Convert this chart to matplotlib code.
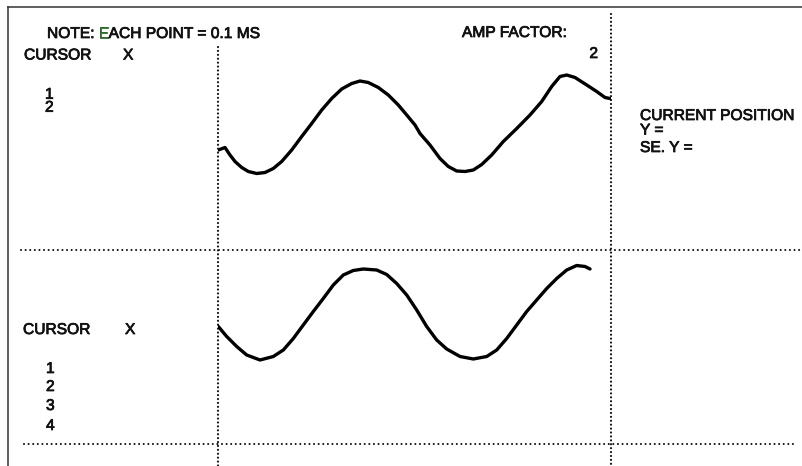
import matplotlib
matplotlib.use("Agg")
import matplotlib.pyplot as plt
import matplotlib.patheffects as pe

# ---------------- data ----------------
# upper trace: sample index (each point = 0.1 ms) and amplitude
top_x = [0.08, 1.78, 3.05, 4.33, 6.03, 7.71, 9.85, 11.96, 14.07, 16.21, 18.75, 21.30,
         23.84, 26.39, 28.93, 31.48, 34.02, 36.13, 38.24, 40.79, 43.33, 45.88, 48.02,
         50.13, 51.40, 53.94, 56.49, 58.60, 60.74, 62.85, 64.96, 67.10, 69.64, 72.60,
         76.01, 79.39, 82.37, 84.91, 87.02, 88.73, 90.84, 93.82, 96.36, 98.47, 99.75]
top_y = [-0.43, -0.38, -0.53, -0.66, -0.78, -0.86, -0.90, -0.88, -0.80, -0.66, -0.43,
         -0.16, 0.10, 0.37, 0.60, 0.79, 0.90, 0.95, 0.92, 0.82, 0.67, 0.47, 0.27, 0.07,
         -0.10, -0.33, -0.60, -0.76, -0.85, -0.86, -0.83, -0.72, -0.53, -0.26, 0.00,
         0.27, 0.54, 0.84, 1.04, 1.07, 1.02, 0.87, 0.74, 0.62, 0.60]

# lower trace
bot_x = [0.08, 2.21, 4.76, 7.30, 10.69, 14.07, 16.62, 19.16, 21.70, 24.25, 26.79,
         29.34, 31.88, 34.43, 36.97, 40.38, 42.93, 45.47, 48.02, 50.56, 53.10, 55.65,
         58.19, 61.58, 64.96, 68.37, 70.92, 73.46, 76.01, 78.55, 81.09, 83.64, 86.18,
         88.73, 91.27, 93.38, 94.66]
bot_y = [0.41, 0.21, 0.01, -0.16, -0.26, -0.19, -0.06, 0.17, 0.44, 0.71, 0.97, 1.24,
         1.44, 1.53, 1.56, 1.54, 1.45, 1.27, 1.04, 0.74, 0.41, 0.14, -0.04, -0.19,
         -0.24, -0.19, -0.06, 0.17, 0.44, 0.71, 0.94, 1.17, 1.37, 1.54, 1.63, 1.61,
         1.56]

note_parts = ["NOTE:", "E", "ACH POINT = 0.1 MS"]
amp_label = "AMP FACTOR:"
amp_value = "2"
cursor_label = "CURSOR"
x_label = "X"
top_cursors = ["1", "2"]
bot_cursors = ["1", "2", "3", "4"]
pos_labels = ["CURRENT POSITION", "Y =", "SE. Y ="]

# ---------------- figure ----------------
W, H = 802, 466
fig = plt.figure(figsize=(W / 100, H / 100), dpi=100)
fig.patch.set_facecolor("white")

# screen axes in pixel units (layout only)
scr = fig.add_axes([0, 0, 1, 1])
scr.set_xlim(0, W)
scr.set_ylim(H, 0)
scr.axis("off")

FONT = ["Liberation Sans", "DejaVu Sans"]
FS = 11.2
TC = "#111111"
EFF = [pe.withStroke(linewidth=0.55, foreground=TC)]

# frame
scr.plot([8, 802], [7, 7], color="#333333", lw=1.1)
scr.plot([8, 8], [7, 466], color="#333333", lw=1.1)

dot_v = dict(color="#111111", lw=1.6, linestyle=(0, (0.01, 1.75)),
             dash_capstyle="round")
dot_h = dict(color="#111111", lw=1.5, linestyle=(0, (0.01, 2.2)),
             dash_capstyle="round")
scr.plot([218, 218], [47, 466], **dot_v)
scr.plot([611, 611], [14, 466], **dot_v)
scr.plot([21, 800], [250, 250], **dot_h)
scr.plot([24, 793], [444, 444], **dot_h)


def txt(x, y, s, ha="left", color=TC, **kw):
    eff = [pe.withStroke(linewidth=0.55, foreground=color)]
    return scr.text(x, y, s, ha=ha, va="baseline", fontsize=FS, family=FONT,
                    color=color, path_effects=eff, **kw)


# NOTE line with green "E"
fig.canvas.draw()
renderer = fig.canvas.get_renderer()


def width(s):
    t = scr.text(0, 0, s, fontsize=FS, family=FONT)
    w = t.get_window_extent(renderer).width
    t.remove()
    return w


x0 = 47
txt(x0, 38, note_parts[0])
xe = x0 + width("NOTE: E") - width("E")
txt(xe, 38, note_parts[1], color="#2f6a2f")
xa = x0 + width("NOTE: EA") - width("A")
txt(xa, 38, note_parts[2])

txt(462, 37, amp_label)
txt(598, 58, amp_value, ha="right")

txt(24, 59.5, cursor_label)
txt(123, 59.5, x_label)
txt(45, 111.7, "\n".join(top_cursors), linespacing=0.83)

for lab, yb in zip(pos_labels, [120, 134.5, 152]):
    txt(640, yb, lab)

txt(23, 334, cursor_label)
txt(125, 334, x_label)
for lab, yb in zip(bot_cursors, [373, 391, 410, 430]):
    txt(46, yb, lab)

# trace axes
ax_top = fig.add_axes([218 / W, (H - 250) / H, 393 / W, 243 / H])
ax_top.set_xlim(0, 100)
ax_top.set_ylim(-2.43, 2.43)
ax_top.axis("off")
ax_top.patch.set_alpha(0)
ax_top.plot(top_x, top_y, color="black", lw=2.4, solid_joinstyle="round",
            solid_capstyle="round")

ax_bot = fig.add_axes([218 / W, (H - 444) / H, 393 / W, 194 / H])
ax_bot.set_xlim(0, 100)
ax_bot.set_ylim(-1.94, 1.94)
ax_bot.axis("off")
ax_bot.patch.set_alpha(0)
ax_bot.plot(bot_x, bot_y, color="black", lw=2.4, solid_joinstyle="round",
            solid_capstyle="round")

fig.savefig("out.png", dpi=100, facecolor="white")
